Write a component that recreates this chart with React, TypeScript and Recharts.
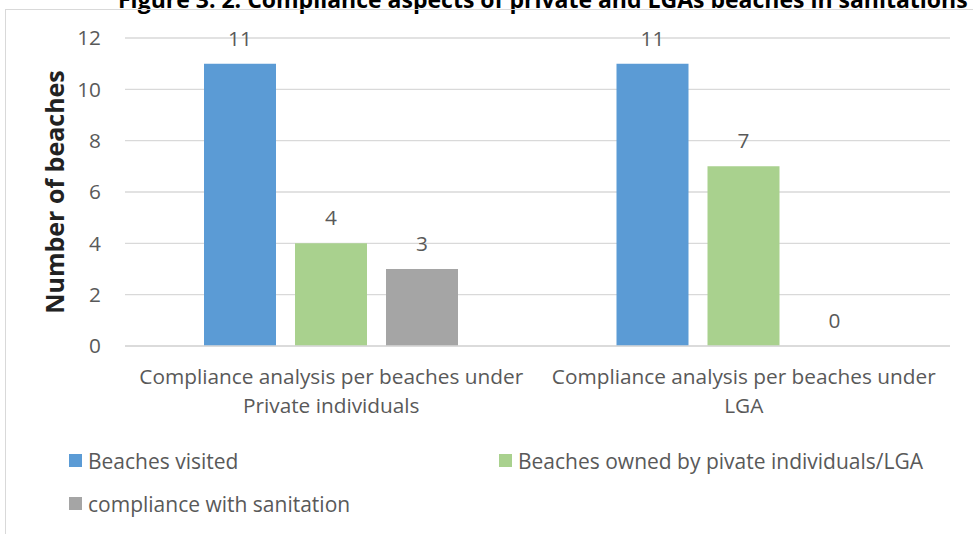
import React from 'react';
import { BarChart, Bar, XAxis, YAxis, CartesianGrid, Legend, LabelList, Label } from 'recharts';

const categories = [
  'Compliance analysis per beaches under Private individuals',
  'Compliance analysis per beaches under LGA',
];
const beachesVisited = [11, 11];
const beachesOwned = [4, 7];
const complianceSanitation = [3, 0];
const yTicks = [0, 2, 4, 6, 8, 10, 12];

const seriesOrder = ['visited', 'owned', 'compliance'];
const seriesNames: Record<string, string> = {
  visited: 'Beaches visited',
  owned: 'Beaches owned by pivate individuals/LGA',
  compliance: 'compliance with sanitation',
};

const data = categories.map((name, i) => ({
  name,
  visited: beachesVisited[i],
  owned: beachesOwned[i],
  compliance: complianceSanitation[i],
}));

const FONT = '"Open Sans", "Liberation Sans", sans-serif';
const TEXT = '#595959';
const FS = 20.8;

const CategoryTick = (props: any) => {
  const { x, y, payload } = props;
  const label: string = payload.value;
  const cut = label.indexOf('under') + 'under'.length;
  const lines = [label.slice(0, cut), label.slice(cut).trim()];
  return (
    <text x={x} y={y} textAnchor="middle" fill={TEXT} fontFamily={FONT} fontSize={FS}>
      {lines.map((l, i) => (
        <tspan key={i} x={x} dy={i === 0 ? 38 : 29}>
          {l}
        </tspan>
      ))}
    </text>
  );
};

const LegendContent = (props: any) => {
  const payload = [...(props.payload || [])].sort(
    (a: any, b: any) => seriesOrder.indexOf(a.dataKey) - seriesOrder.indexOf(b.dataKey),
  );
  return (
    <div style={{ display: 'grid', gridTemplateColumns: '430px 430px', rowGap: 16, fontFamily: FONT }}>
      {payload.map((p: any) => (
        <div key={p.value} style={{ display: 'flex', alignItems: 'center', height: 27, color: TEXT, fontSize: 21 }}>
          <span style={{ width: 13, height: 13, background: p.color, marginRight: 6, display: 'inline-block', flex: 'none' }} />
          <span style={{ whiteSpace: 'nowrap' }}>{p.value}</span>
        </div>
      ))}
    </div>
  );
};

const YTitle = (props: any) => {
  const { viewBox } = props;
  const cx = 54;
  const cy = viewBox.y + viewBox.height / 2;
  return (
    <text
      x={cx}
      y={cy}
      transform={`rotate(-90, ${cx}, ${cy})`}
      textAnchor="middle"
      dominantBaseline="central"
      fontFamily={FONT}
      fontWeight="bold"
      fontSize={25}
      fill="#222"
    >
      Number of beaches
    </text>
  );
};

export default function App() {
  return (
    <div
      style={{
        position: 'absolute',
        left: 0,
        top: 0,
        width: 973,
        height: 534,
        overflow: 'hidden',
        background: '#fff',
      }}
    >
      <svg width={973} height={20} style={{ position: 'absolute', left: 0, top: 0 }}>
        <text x={118} y={8} fontFamily={FONT} fontWeight="bold" fontSize={23} fill="#000">
          Figure 3. 2: Compliance aspects of private and LGAs beaches in sanitations
        </text>
      </svg>
      <div
        style={{
          position: 'absolute',
          left: 5,
          top: 9,
          width: 980,
          height: 540,
          borderLeft: '1.5px solid #d9d9d9',
          borderTop: '1.5px solid #d9d9d9',
        }}
      />
      <div style={{ position: 'absolute', left: 0, top: 0 }}>
        <BarChart
          width={973}
          height={534}
          data={data}
          margin={{ top: 38, right: 23, bottom: 128, left: 65 }}
          barSize={72}
          barGap={19}
        >
          <CartesianGrid vertical={false} stroke="#d9d9d9" strokeWidth={1.3} />
          <XAxis
            dataKey="name"
            tick={<CategoryTick />}
            tickLine={false}
            tickSize={0}
            tickMargin={0}
            axisLine={{ stroke: '#d9d9d9', strokeWidth: 1.3 }}
            interval={0}
            height={60}
          />
          <YAxis
            domain={[0, 12]}
            ticks={yTicks}
            width={60}
            axisLine={false}
            tickLine={false}
            tickSize={0}
            tickMargin={24}
            tick={{ fill: TEXT, fontFamily: FONT, fontSize: FS }}
          >
            <Label content={<YTitle />} />
          </YAxis>
          <Legend
            content={<LegendContent />}
            layout="horizontal"
            verticalAlign="middle"
            align="center"
            wrapperStyle={{ position: 'absolute', left: 69, top: 447, width: 880 }}
          />
          <Bar dataKey="visited" name={seriesNames.visited} fill="#5b9bd5" isAnimationActive={false}>
            <LabelList dataKey="visited" position="top" offset={18} fill={TEXT} fontFamily={FONT} fontSize={FS} />
          </Bar>
          <Bar dataKey="owned" name={seriesNames.owned} fill="#a9d18e" isAnimationActive={false}>
            <LabelList dataKey="owned" position="top" offset={18} fill={TEXT} fontFamily={FONT} fontSize={FS} />
          </Bar>
          <Bar
            dataKey="compliance"
            name={seriesNames.compliance}
            fill="#a5a5a5"
            minPointSize={0.01}
            isAnimationActive={false}
          >
            <LabelList dataKey="compliance" position="top" offset={18} fill={TEXT} fontFamily={FONT} fontSize={FS} />
          </Bar>
        </BarChart>
      </div>
    </div>
  );
}
